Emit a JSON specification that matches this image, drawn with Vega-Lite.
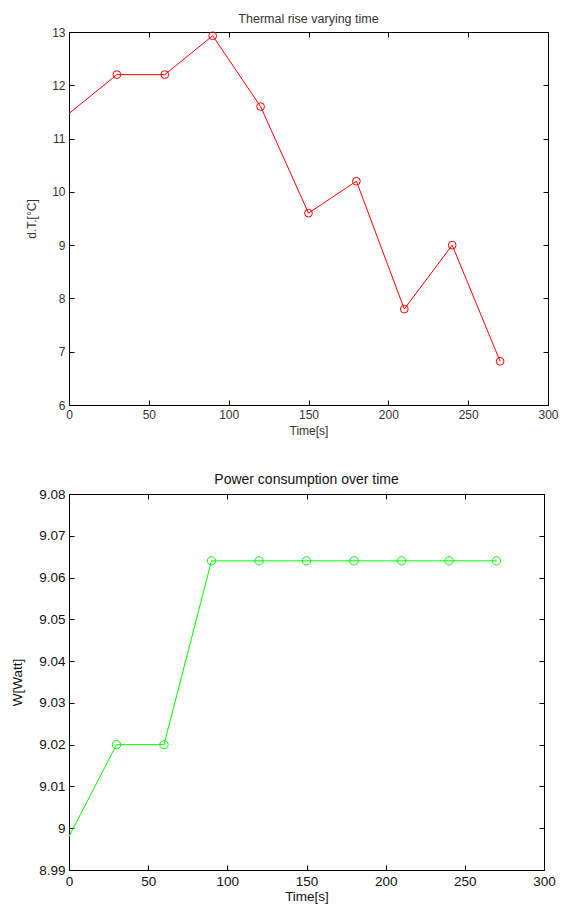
{
  "$schema": "https://vega.github.io/schema/vega-lite/v6.json",
  "background": "white",
  "padding": {"left": 10, "top": 12, "right": 5, "bottom": 5},
  "datasets": {
    "thermal": [
      {"t": 0, "v": 11.47, "marker": false},
      {"t": 30, "v": 12.2, "marker": true},
      {"t": 60, "v": 12.2, "marker": true},
      {"t": 90, "v": 12.93, "marker": true},
      {"t": 120, "v": 11.6, "marker": true},
      {"t": 150, "v": 9.6, "marker": true},
      {"t": 180, "v": 10.2, "marker": true},
      {"t": 210, "v": 7.8, "marker": true},
      {"t": 240, "v": 9.0, "marker": true},
      {"t": 270, "v": 6.82, "marker": true}
    ],
    "power": [
      {"t": 0, "w": 8.998, "marker": false},
      {"t": 30, "w": 9.02, "marker": true},
      {"t": 60, "w": 9.02, "marker": true},
      {"t": 90, "w": 9.064, "marker": true},
      {"t": 120, "w": 9.064, "marker": true},
      {"t": 150, "w": 9.064, "marker": true},
      {"t": 180, "w": 9.064, "marker": true},
      {"t": 210, "w": 9.064, "marker": true},
      {"t": 240, "w": 9.064, "marker": true},
      {"t": 270, "w": 9.064, "marker": true}
    ]
  },
  "config": {
    "view": {"stroke": "black", "strokeWidth": 1},
    "font": "Liberation Sans",
    "axis": {
      "grid": false,
      "domainColor": "black",
      "tickColor": "black",
      "tickSize": -5,
      "labelPadding": 9,
      "labelFont": "Liberation Sans",
      "labelFontSize": 12,
      "labelColor": "#333",
      "titleFont": "Liberation Sans",
      "titleFontSize": 12,
      "titleFontWeight": "normal",
      "titleColor": "#333",
      "labelFlush": false,
      "labelOverlap": false
    },
    "title": {"font": "Liberation Sans", "fontSize": 12.5, "fontWeight": "normal", "color": "#333", "offset": 1}
  },
  "spacing": 35,
  "vconcat": [
    {
      "width": 479,
      "height": 373,
      "title": "Thermal rise varying time",
      "data": {"name": "thermal"},
      "layer": [
        {
          "mark": {"type": "line", "color": "#ff0000", "strokeWidth": 1},
          "encoding": {
            "x": {"field": "t", "type": "quantitative", "scale": {"domain": [0, 300], "nice": false},
                  "axis": {"orient": "bottom", "values": [0, 50, 100, 150, 200, 250, 300], "title": "Time[s]", "titlePadding": 5}},
            "y": {"field": "v", "type": "quantitative", "scale": {"domain": [6, 13], "nice": false, "zero": false},
                  "axis": {"orient": "left", "values": [6, 7, 8, 9, 10, 11, 12, 13], "title": "d.T.[°C]", "titlePadding": 13}}
          }
        },
        {
          "transform": [{"filter": "datum.marker"}],
          "mark": {"type": "point", "shape": "circle", "color": "#ff0000", "filled": false, "size": 60, "strokeWidth": 1, "opacity": 1},
          "encoding": {
            "x": {"field": "t", "type": "quantitative",
                  "axis": {"orient": "top", "values": [0, 50, 100, 150, 200, 250, 300], "labels": false, "title": null}},
            "y": {"field": "v", "type": "quantitative",
                  "axis": {"orient": "right", "values": [6, 7, 8, 9, 10, 11, 12, 13], "labels": false, "title": null}}
          }
        }
      ],
      "resolve": {"axis": {"x": "independent", "y": "independent"}}
    },
    {
      "width": 475,
      "height": 376,
      "title": {"text": "Power consumption over time", "color": "#111", "fontSize": 14, "offset": 0},
      "data": {"name": "power"},
      "layer": [
        {
          "mark": {"type": "line", "color": "#00ff00", "strokeWidth": 1},
          "encoding": {
            "x": {"field": "t", "type": "quantitative", "scale": {"domain": [0, 300], "nice": false},
                  "axis": {"orient": "bottom", "values": [0, 50, 100, 150, 200, 250, 300], "title": "Time[s]", "titlePadding": 2, "labelColor": "#111", "titleColor": "#111", "labelFontSize": 13.5, "titleFontSize": 13.5}},
            "y": {"field": "w", "type": "quantitative", "scale": {"domain": [8.99, 9.08], "nice": false, "zero": false},
                  "axis": {"orient": "left", "values": [8.99, 9, 9.01, 9.02, 9.03, 9.04, 9.05, 9.06, 9.07, 9.08], "format": "~g", "title": "W[Watt]", "titlePadding": 14, "labelColor": "#111", "titleColor": "#111", "labelFontSize": 13.5, "titleFontSize": 13.5}}
          }
        },
        {
          "transform": [{"filter": "datum.marker"}],
          "mark": {"type": "point", "shape": "circle", "color": "#00ff00", "filled": false, "size": 70, "strokeWidth": 1, "opacity": 1},
          "encoding": {
            "x": {"field": "t", "type": "quantitative",
                  "axis": {"orient": "top", "values": [0, 50, 100, 150, 200, 250, 300], "labels": false, "title": null}},
            "y": {"field": "w", "type": "quantitative",
                  "axis": {"orient": "right", "values": [8.99, 9, 9.01, 9.02, 9.03, 9.04, 9.05, 9.06, 9.07, 9.08], "labels": false, "title": null}}
          }
        }
      ],
      "resolve": {"axis": {"x": "independent", "y": "independent"}}
    }
  ]
}
